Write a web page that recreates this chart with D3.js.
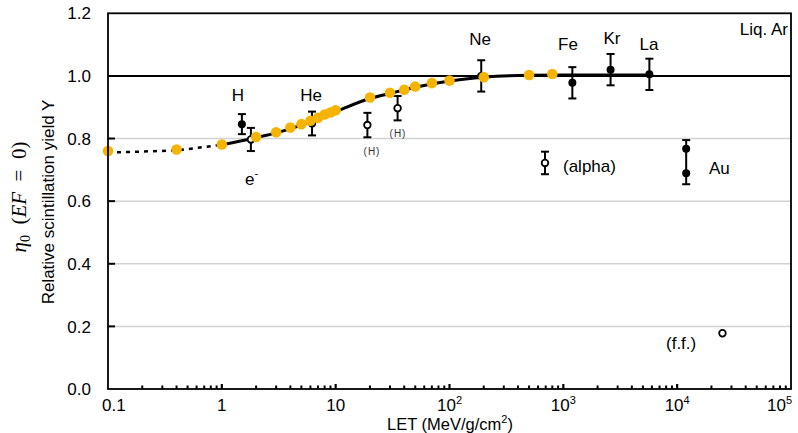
<!DOCTYPE html>
<html>
<head>
<meta charset="utf-8">
<script src="https://cdn.jsdelivr.net/npm/d3@7"></script>
<style>
  html, body { margin: 0; padding: 0; background: #fff; }
  svg { display: block; font-family: "Liberation Sans", Arial, Helvetica, sans-serif; }
</style>
</head>
<body>
<svg id="chart" width="798" height="433"></svg>
<script>
// ---- data ----
// Relative scintillation yield (yellow points) vs LET
const yieldLET = [0.1, 0.4, 1, 2, 3, 4, 5, 6, 7, 8, 9, 10, 20, 30, 40, 50, 70, 100, 200, 500, 800];
const yieldY   = [0.760, 0.765, 0.781, 0.805, 0.820, 0.835, 0.846, 0.857, 0.866, 0.877, 0.883, 0.890,
                  0.931, 0.946, 0.956, 0.966, 0.977, 0.985, 0.996, 1.003, 1.006];

// fitted curve (solid) and low-LET extrapolation (dotted)
const fitLET = [1, 2, 3, 5, 7, 10, 20, 30, 50, 100, 200, 500, 1000, 2000, 6000];
const fitY   = [0.780, 0.803, 0.818, 0.843, 0.863, 0.886, 0.928, 0.944, 0.964, 0.984, 0.996, 1.002, 1.003, 1.003, 1.003];
const extLET = [0.1, 0.4, 1];
const extY   = [0.755, 0.762, 0.780];

// ion measurements with error bars
const ionLabel = ["H", "He", "Ne", "Fe", "Kr", "La"];
const ionLET   = [1.5, 6.2, 190, 1200, 2600, 5700];
const ionY     = [0.846, 0.848, 1.000, 0.978, 1.020, 1.005];
const ionErr   = [0.032, 0.038, 0.050, 0.050, 0.050, 0.050];

// open-marker measurements with error bars: e-, (H), (H), alpha
const openLET = [1.8, 19, 35, 690];
const openY   = [0.797, 0.843, 0.897, 0.722];
const openErr = [0.037, 0.039, 0.039, 0.036];

// Au: two values sharing one bar
const auLET = 12000;
const auY = [0.767, 0.689];
const auRange = [0.654, 0.795];

// fission fragments
const ffLET = 25000;
const ffY = 0.178;

const xTickValues = [0.1, 1, 10, 100, 1000, 10000, 100000];
const xTickBase = ["0.1", "1", "10", "10", "10", "10", "10"];
const xTickExp  = ["", "", "", "2", "3", "4", "5"];
const yTickValues = [0, 0.2, 0.4, 0.6, 0.8, 1.0, 1.2];
const yTickLabels = ["0.0", "0.2", "0.4", "0.6", "0.8", "1.0", "1.2"];
const yGridValues = [0.2, 0.4, 0.6, 0.8];

// ---- layout ----
const svg = d3.select("#chart");
const plotLeft = 108, plotRight = 791, plotTop = 13.3, plotBottom = 389;
const x = d3.scaleLog().domain([0.1, 1e5]).range([plotLeft, plotRight]);
const y = d3.scaleLinear().domain([0, 1.2]).range([plotBottom, plotTop]);
const gold = "#F5B400";
const labelSize = 17;

// grid
svg.append("g").selectAll("line").data(yGridValues).join("line")
  .attr("x1", plotLeft).attr("x2", plotRight)
  .attr("y1", d => y(d)).attr("y2", d => y(d))
  .attr("stroke", "#d2d2d2").attr("stroke-width", 1.5);

// unity reference line
svg.append("line")
  .attr("x1", plotLeft).attr("x2", plotRight).attr("y1", y(1)).attr("y2", y(1))
  .attr("stroke", "#000").attr("stroke-width", 2);

// y ticks (inside)
svg.append("g").selectAll("line").data(yGridValues).join("line")
  .attr("x1", plotLeft).attr("x2", plotLeft + 7)
  .attr("y1", d => y(d)).attr("y2", d => y(d))
  .attr("stroke", "#000").attr("stroke-width", 2);

// x ticks (inside): minor at 2..9, major at decades
const minor = [];
for (let e = -1; e < 5; e++) for (let m = 2; m <= 9; m++) minor.push(m * Math.pow(10, e));
svg.append("g").selectAll("line").data(minor).join("line")
  .attr("x1", d => x(d)).attr("x2", d => x(d))
  .attr("y1", plotBottom).attr("y2", plotBottom - 3.5)
  .attr("stroke", "#000").attr("stroke-width", 2);
svg.append("g").selectAll("line").data(xTickValues.slice(1, -1)).join("line")
  .attr("x1", d => x(d)).attr("x2", d => x(d))
  .attr("y1", plotBottom).attr("y2", plotBottom - 5)
  .attr("stroke", "#000").attr("stroke-width", 2.2);

// curves
const line = d3.line().x(d => x(d[0])).y(d => y(d[1]));
svg.append("path")
  .attr("d", line(extLET.map((v, i) => [v, extY[i]])))
  .attr("fill", "none").attr("stroke", "#000").attr("stroke-width", 2.5)
  .attr("stroke-dasharray", "4,5");
svg.append("path")
  .attr("d", d3.line().curve(d3.curveMonotoneX).x(d => x(d[0])).y(d => y(d[1]))(fitLET.map((v, i) => [v, fitY[i]])))
  .attr("fill", "none").attr("stroke", "#000").attr("stroke-width", 3);

// error bars helper
function errorBar(g, xv, lo, hi) {
  const cx = x(xv), cap = 4;
  g.append("line").attr("x1", cx).attr("x2", cx).attr("y1", y(lo)).attr("y2", y(hi));
  g.append("line").attr("x1", cx - cap).attr("x2", cx + cap).attr("y1", y(lo)).attr("y2", y(lo));
  g.append("line").attr("x1", cx - cap).attr("x2", cx + cap).attr("y1", y(hi)).attr("y2", y(hi));
}
const bars = svg.append("g").attr("stroke", "#000").attr("stroke-width", 2);
ionLET.forEach((v, i) => errorBar(bars, v, ionY[i] - ionErr[i], ionY[i] + ionErr[i]));
openLET.forEach((v, i) => errorBar(bars, v, openY[i] - openErr[i], openY[i] + openErr[i]));
errorBar(bars, auLET, auRange[0], auRange[1]);

// filled markers
svg.append("g").selectAll("circle").data(ionLET.map((v, i) => [v, ionY[i]]).concat(auY.map(v => [auLET, v])))
  .join("circle")
  .attr("cx", d => x(d[0])).attr("cy", d => y(d[1])).attr("r", 4)
  .attr("fill", "#000");

// open markers
svg.append("g").selectAll("circle").data(openLET.map((v, i) => [v, openY[i]]).concat([[ffLET, ffY]]))
  .join("circle")
  .attr("cx", d => x(d[0])).attr("cy", d => y(d[1])).attr("r", 3.3)
  .attr("fill", "#fff").attr("stroke", "#000").attr("stroke-width", 1.8);

// yellow scintillation-yield points
svg.append("g").selectAll("circle").data(yieldLET.map((v, i) => [v, yieldY[i]]))
  .join("circle")
  .attr("cx", d => x(d[0])).attr("cy", d => y(d[1])).attr("r", 5.3)
  .attr("fill", gold);

// frame
svg.append("rect")
  .attr("x", plotLeft).attr("y", plotTop).attr("width", plotRight - plotLeft).attr("height", plotBottom - plotTop)
  .attr("fill", "none").attr("stroke", "#000").attr("stroke-width", 1.8);

// y tick labels
svg.append("g").selectAll("text").data(yTickValues).join("text")
  .attr("x", 91).attr("y", d => y(d)).attr("dy", "0.36em")
  .attr("text-anchor", "end").attr("font-size", labelSize)
  .text((d, i) => yTickLabels[i]);

// x tick labels with exponents
const xl = svg.append("g").attr("font-size", labelSize);
xTickValues.forEach((v, i) => {
  let anchor = "middle", px = x(v);
  if (i === 0) { anchor = "start"; px = x(v) - 6; }
  if (i === xTickValues.length - 1) { anchor = "end"; px = x(v) + 1; }
  const t = xl.append("text").attr("x", px).attr("y", 411).attr("text-anchor", anchor);
  t.append("tspan").text(xTickBase[i]);
  if (xTickExp[i]) t.append("tspan").attr("font-size", 11).attr("dy", -7).text(xTickExp[i]);
});

// x axis title
const xt = svg.append("text").attr("x", 450).attr("y", 430).attr("text-anchor", "middle").attr("font-size", 16.5);
xt.append("tspan").text("LET (MeV/g/cm");
xt.append("tspan").attr("font-size", 11).attr("dy", -7).text("2");
xt.append("tspan").attr("dy", 7).text(")");

// y axis titles
svg.append("text")
  .attr("transform", "translate(53.5,202) rotate(-90)")
  .attr("text-anchor", "middle").attr("font-size", labelSize)
  .text("Relative scintillation yield Y");
const eta = svg.append("text")
  .attr("transform", "translate(26,197) rotate(-90)")
  .attr("text-anchor", "middle").attr("font-size", 21)
  .attr("font-family", "'Liberation Serif', 'Times New Roman', serif");
eta.append("tspan").attr("font-style", "italic").text("η");
eta.append("tspan").attr("font-size", 14).attr("dy", 4).text("0");
eta.append("tspan").attr("dy", -4).text("\u2002(");
eta.append("tspan").attr("font-style", "italic").text("EF");
eta.append("tspan").text("\u2002=\u20020)");

// ion labels
const ionLabelPos = [[238, 100.5], [311, 100.5], [480, 45], [568, 49.5], [612, 44], [649, 49.5]];
svg.append("g").attr("font-size", labelSize).attr("text-anchor", "middle")
  .selectAll("text").data(ionLabel).join("text")
  .attr("x", (d, i) => ionLabelPos[i][0]).attr("y", (d, i) => ionLabelPos[i][1])
  .text(d => d);

// other annotations
const ann = svg.append("g").attr("font-size", labelSize);
const eMinus = ann.append("text").attr("x", 245).attr("y", 185);
eMinus.append("tspan").text("e");
eMinus.append("tspan").attr("font-size", 11).attr("dy", -8).text("-");
ann.append("text").attr("x", 788).attr("y", 35).attr("text-anchor", "end").text("Liq. Ar");
ann.append("text").attr("x", 563).attr("y", 172).text("(alpha)");
ann.append("text").attr("x", 709).attr("y", 174).text("Au");
ann.append("text").attr("x", 666).attr("y", 349).text("(f.f.)");
svg.append("g").attr("font-size", 10).attr("letter-spacing", 1).attr("text-anchor", "middle")
  .attr("fill", "#333")
  .selectAll("text").data([[372, 155], [398, 137]]).join("text")
  .attr("x", d => d[0]).attr("y", d => d[1]).text("(H)");
</script>
</body>
</html>
